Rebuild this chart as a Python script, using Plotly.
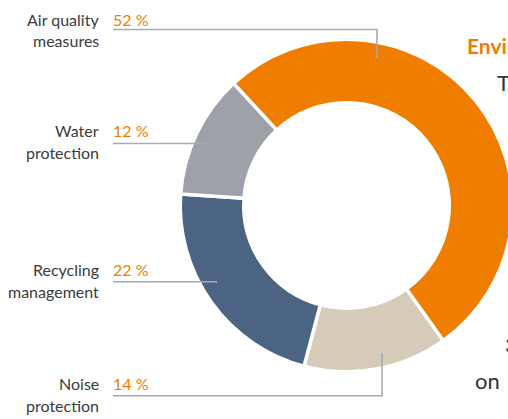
import plotly.graph_objects as go

# ---------------- data ----------------
categories = ["Air quality measures", "Noise protection", "Recycling management", "Water protection"]
shares = [52, 14, 22, 12]
label_line1 = ["Air quality", "Noise", "Recycling", "Water"]
label_line2 = ["measures", "protection", "management", "protection"]
share_text = ["52 %", "14 %", "22 %", "12 %"]
colors = ["#EF7D00", "#D6CBB8", "#4B6483", "#9EA1A8"]

# side text fragments (cropped copy on the right)
side_heading = "Environmental protection"
side_lines = ["The", "3", "on"]

# ---------------- layout helpers ----------------
OFF = 0
W, H = 514, 419
def px(x):
    return (x - OFF) / W
def py(y):
    return 1 - (y - OFF) / H

# label layout (page pixels)
label_y1 = [19.8, 383.8, 269.8, 130.8]
label_y2 = [40.8, 405.8, 291.8, 152.0]
leader_y = [29.5, 395.7, 281.7, 143.5]
leader_x_end = [377, 382, 217, 210]
leader_y_end = [58, 353, None, None]

# donut geometry (page pixels)
CX, CY, R = 346.5, 205.5, 166.25

TEXT = "#3b3b3b"
ORANGE = "#EF7D00"
LINE = "#A9AAB1"
FONT = "Lato"

fig = go.Figure()
fig.add_trace(go.Pie(
    labels=categories,
    values=shares,
    sort=False,
    direction="clockwise",
    rotation=-42.8,
    hole=0.618,
    marker=dict(colors=colors, line=dict(color="white", width=3.5)),
    textinfo="none",
    hoverinfo="label+percent",
    showlegend=False,
    domain=dict(x=[px(CX - R), px(CX + R)], y=[py(CY + R), py(CY - R)]),
))

annotations = []
shapes = []
for i in range(len(categories)):
    annotations.append(dict(x=px(101), y=py(label_y1[i]), xref="paper", yref="paper",
                            text=label_line1[i], showarrow=False, xanchor="right", yanchor="middle",
                            font=dict(family=FONT, size=16, color=TEXT)))
    annotations.append(dict(x=px(101), y=py(label_y2[i]), xref="paper", yref="paper",
                            text=label_line2[i], showarrow=False, xanchor="right", yanchor="middle",
                            font=dict(family=FONT, size=16, color=TEXT)))
    annotations.append(dict(x=px(111), y=py(label_y1[i]), xref="paper", yref="paper",
                            text=share_text[i], showarrow=False, xanchor="left", yanchor="middle",
                            font=dict(family=FONT, size=16, color=ORANGE)))
    path = f"M {px(113)} {py(leader_y[i])} L {px(leader_x_end[i])} {py(leader_y[i])}"
    if leader_y_end[i] is not None:
        path += f" L {px(leader_x_end[i])} {py(leader_y_end[i])}"
    shapes.append(dict(type="path", path=path, xref="paper", yref="paper",
                       line=dict(color=LINE, width=1.6), layer="above"))

annotations.append(dict(x=px(465), y=py(45), xref="paper", yref="paper", text=f"<b>{side_heading}</b>",
                        showarrow=False, xanchor="left", yanchor="middle",
                        font=dict(family=FONT, size=21, color=ORANGE)))
side_pos = [(495, 82), (503, 344), (473, 380)]
for t, (x, y) in zip(side_lines, side_pos):
    annotations.append(dict(x=px(x), y=py(y), xref="paper", yref="paper", text=t,
                            showarrow=False, xanchor="left", yanchor="middle",
                            font=dict(family=FONT, size=22, color="#333333")))

fig.update_layout(
    width=W, height=H,
    margin=dict(l=0, r=0, t=0, b=0),
    paper_bgcolor="white", plot_bgcolor="white",
    annotations=annotations,
    shapes=shapes,
    font=dict(family=FONT),
)

page_css = ("document.body.style.margin='0';"
            "document.body.style.overflow='hidden';"
            "document.documentElement.style.overflow='hidden';")
fig.write_html("out.html", post_script=page_css, config={"displayModeBar": False})
